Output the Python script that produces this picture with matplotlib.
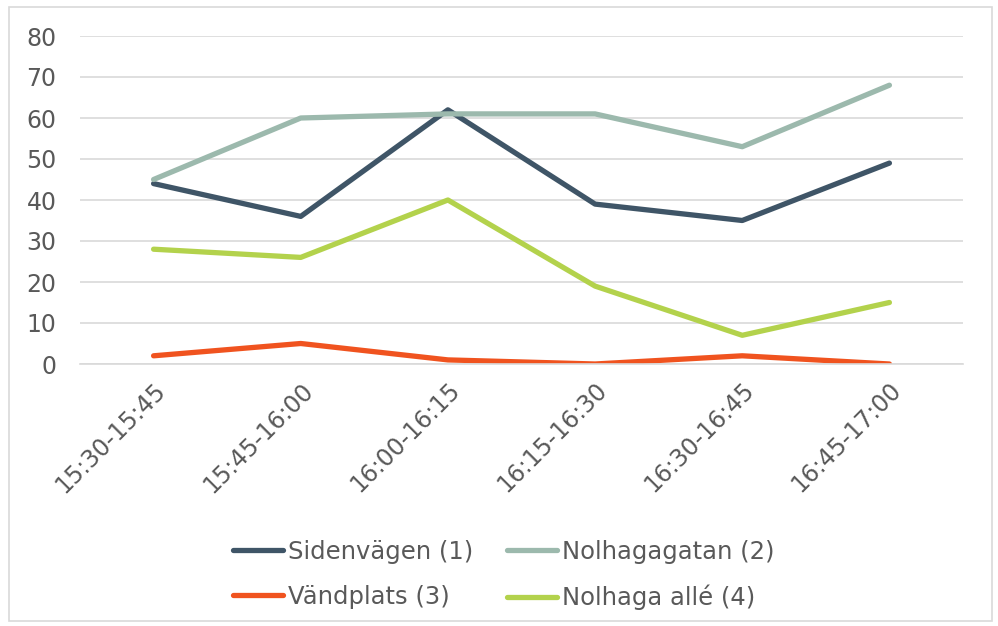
import matplotlib
matplotlib.use("Agg")
import matplotlib.pyplot as plt
from matplotlib.patches import Rectangle

categories = ["15:30-15:45", "15:45-16:00", "16:00-16:15", "16:15-16:30", "16:30-16:45", "16:45-17:00"]
sidenvagen = [44, 36, 62, 39, 35, 49]
nolhagagatan = [45, 60, 61, 61, 53, 68]
vandplats = [2, 5, 1, 0, 2, 0]
nolhaga_alle = [28, 26, 40, 19, 7, 15]
series_names = ["Sidenvägen (1)", "Nolhagagatan (2)", "Vändplats (3)", "Nolhaga allé (4)"]
colors = ["#3F5567", "#9CB9AD", "#F0531F", "#B3D24C"]
yticks = [0, 10, 20, 30, 40, 50, 60, 70, 80]

W, H = 998, 626
fig = plt.figure(figsize=(W / 100, H / 100), dpi=100)
fig.patches.append(Rectangle((9 / W, 1 - 621 / H), (992 - 9) / W, (621 - 7) / H,
                             transform=fig.transFigure, fill=False, edgecolor="#D9D9D9", lw=1.2))

ax = fig.add_axes([80 / W, 1 - 364 / H, (963 - 80) / W, (364 - 36) / H])
x = list(range(len(categories)))
handles = []
for vals, name, c in zip([sidenvagen, nolhagagatan, vandplats, nolhaga_alle], series_names, colors):
    h, = ax.plot(x, vals, color=c, lw=3.8, label=name, solid_capstyle="round", solid_joinstyle="round")
    handles.append(h)

ax.set_xlim(-0.5, len(categories) - 0.5)
ax.set_ylim(0, 80)
ax.set_yticks(yticks)
ax.grid(axis="y", color="#D9D9D9", lw=1.2)
ax.set_axisbelow(True)
for s in ["top", "right", "left"]:
    ax.spines[s].set_visible(False)
ax.spines["bottom"].set_color("#D9D9D9")
ax.spines["bottom"].set_linewidth(1.2)
ax.tick_params(length=0, labelsize=17, labelcolor="#595959")
ax.tick_params(axis="y", pad=17)
ax.set_xticks(x)
ax.set_xticklabels(categories, rotation=45, ha="right", rotation_mode="anchor")
ax.tick_params(axis="x", pad=10)

order = [0, 2, 1, 3]
leg = fig.legend([handles[i] for i in order], [series_names[i] for i in order],
                 loc="center", bbox_to_anchor=(504 / W, 1 - 575 / H), ncol=2, frameon=False,
                 fontsize=17.5, handlelength=2.05, columnspacing=1.4, labelspacing=0.85,
                 handletextpad=0.2)
for t in leg.get_texts():
    t.set_color("#595959")

fig.savefig("out.png", dpi=100)
